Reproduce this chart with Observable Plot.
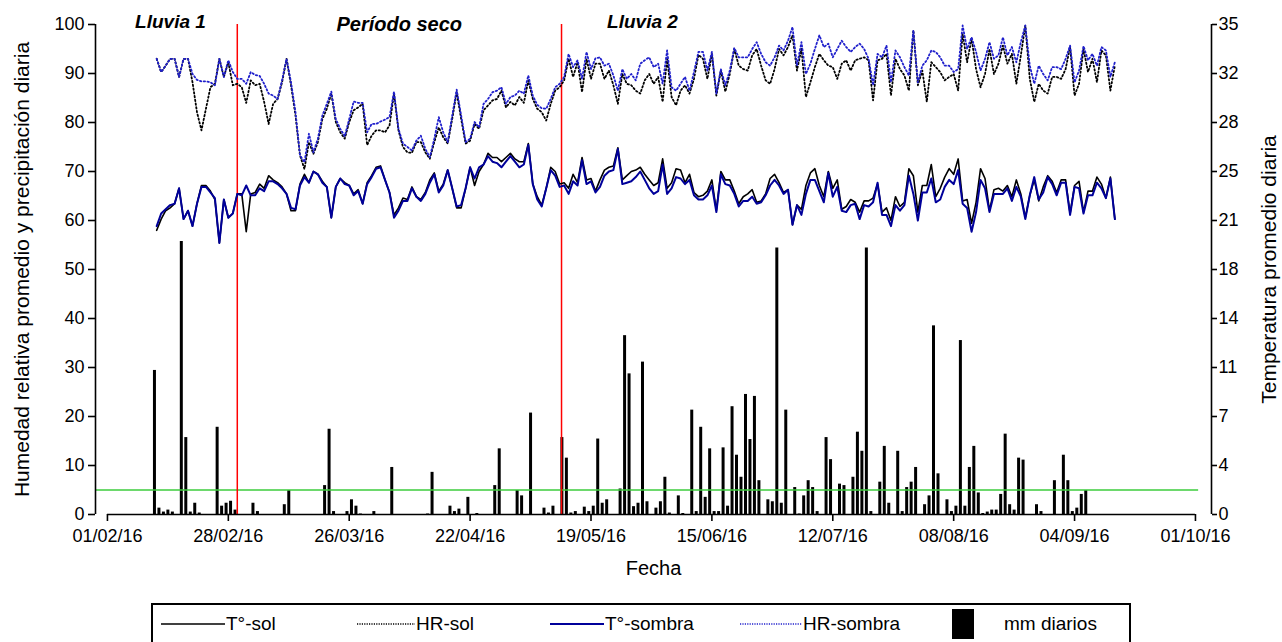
<!DOCTYPE html>
<html>
<head>
<meta charset="utf-8">
<script src="https://cdn.jsdelivr.net/npm/d3@7"></script>
<script src="https://cdn.jsdelivr.net/npm/@observablehq/plot@0.6"></script>
<style>
  body { margin: 0; background: #fff; font-family: "Liberation Sans", Arial, sans-serif; }
  #wrap { position: relative; width: 1282px; height: 642px; overflow: hidden; background: #fff; }
  #legend { position: absolute; left: 151px; top: 603px; width: 980px; height: 42px; border: 2px solid #000; box-sizing: border-box; }
  .item { position: absolute; top: 0; height: 100%; display: flex; align-items: center; font-size: 19px; color: #000; white-space: nowrap; }
  .item svg { display: block; }
</style>
</head>
<body>
<div id="wrap">
  <div id="chart"></div>
  <div id="legend"></div>
</div>
<script>
// ---- Data ----
const seriesStart = "2016-02-12"; // first daily value of the four line series

const tSol = [
  20.3,21.1,21.7,21.9,22.2,23.3,21.1,21.7,20.6,22.2,
  23.5,23.5,23.1,22.5,19.4,22.5,21.2,21.5,22.9,22.9,
  20.2,22.9,23.0,23.6,23.3,24.2,23.9,23.7,23.4,22.9,
  21.7,21.7,23.6,24.3,23.7,24.5,24.3,23.8,23.4,21.2,
  23.4,24.0,23.7,23.5,22.9,23.2,22.2,23.7,24.2,24.8,
  24.9,23.9,23.0,21.4,21.9,22.6,22.5,23.4,22.7,22.5,
  23.0,23.9,24.4,23.1,23.6,24.6,23.3,21.9,21.9,23.3,
  24.8,23.5,24.5,25.0,25.8,25.5,25.5,25.2,25.5,25.8,
  25.4,25.2,25.2,26.5,23.6,22.7,22.1,23.3,24.8,24.5,
  23.6,23.7,23.3,24.3,23.7,25.5,23.9,24.0,23.1,23.9,
  24.6,24.8,24.9,26.2,23.9,24.2,24.5,24.6,24.8,24.3,
  23.9,23.5,23.7,25.4,23.3,23.7,24.7,24.6,23.7,24.3,
  23.0,22.7,22.8,23.1,23.9,21.7,24.5,23.9,23.9,23.1,
  22.2,22.7,22.9,23.2,22.3,22.4,22.9,24.0,24.3,23.7,
  23.0,23.2,20.7,22.1,21.8,23.5,24.4,24.7,23.5,22.7,
  24.5,23.3,23.9,21.8,22.0,22.5,22.3,21.6,22.4,22.4,
  22.6,23.6,21.6,21.9,21.0,22.7,22.0,22.3,24.7,24.2,
  21.6,23.5,23.5,25.0,22.7,23.3,24.1,24.7,24.3,25.4,
  22.4,22.5,20.8,22.3,24.7,24.0,21.7,23.2,23.3,23.1,
  23.5,22.7,23.9,22.9,21.2,22.8,23.9,22.4,23.4,24.2,
  23.8,23.0,23.9,23.9,21.5,23.5,23.8,21.6,23.1,23.1,
  24.1,23.6,22.6,24.1,21.1
];

const tSombra = [
  20.6,21.5,21.8,22.1,22.2,23.3,21.1,21.7,20.6,22.2,
  23.4,23.4,23.0,22.6,19.4,22.5,21.2,21.5,22.9,22.8,
  23.5,22.8,22.8,23.3,23.1,23.8,23.8,23.6,23.3,22.9,
  21.9,21.8,23.5,24.1,23.7,24.5,24.3,23.7,23.4,21.2,
  23.4,24.0,23.6,23.5,22.8,23.1,22.2,23.6,24.1,24.7,
  24.8,23.9,23.0,21.2,21.7,22.4,22.4,23.3,22.7,22.4,
  22.9,23.7,24.3,23.0,23.5,24.6,23.3,22.0,22.1,23.3,
  24.8,24.0,24.8,25.0,25.6,25.2,25.1,24.8,25.2,25.6,
  25.2,24.8,25.0,26.4,23.6,22.5,22.0,23.3,24.6,24.2,
  23.4,23.5,22.9,23.8,23.5,25.3,23.6,23.8,23.0,23.4,
  24.2,24.5,24.6,26.1,23.6,23.7,23.8,24.1,24.5,23.9,
  23.3,22.9,23.1,25.0,22.9,23.3,24.1,24.0,23.6,23.9,
  22.8,22.5,22.5,22.8,23.5,21.6,24.3,23.6,23.5,22.9,
  22.0,22.4,22.4,22.7,22.2,22.3,22.8,23.5,23.9,23.5,
  22.9,23.2,20.7,22.1,21.4,22.9,23.9,23.9,23.1,22.3,
  24.4,22.7,23.4,21.7,21.6,22.1,22.2,21.1,22.1,22.0,
  22.3,23.7,21.4,21.4,20.6,22.1,21.7,22.1,24.2,22.9,
  21.0,23.0,23.0,24.0,22.3,22.5,23.4,23.9,23.6,24.6,
  22.2,21.9,20.2,21.6,23.9,23.3,21.6,22.9,22.9,22.9,
  23.3,22.4,23.4,22.7,21.1,22.8,24.1,22.5,23.0,24.1,
  23.6,22.8,23.7,23.7,21.4,23.4,23.3,21.5,22.8,22.8,
  23.7,23.3,22.6,24.0,21.1
];

const hrSol = [
  93.0,90.3,91.6,93.0,93.0,89.3,93.0,93.0,88.2,82.1,
  78.4,82.8,87.2,87.9,93.0,89.3,92.3,87.6,87.9,87.2,
  84.0,88.6,87.6,87.9,84.2,79.7,83.8,84.8,88.2,93.0,
  87.6,81.4,73.3,70.5,76.0,73.6,76.0,80.7,82.8,85.9,
  80.1,78.0,76.7,80.1,82.5,83.1,83.8,75.4,77.3,78.4,
  78.4,78.0,79.4,85.9,78.4,75.0,73.9,73.8,76.0,76.0,
  73.9,72.6,76.0,79.0,77.0,75.7,80.7,86.2,80.7,75.7,
  76.3,79.7,78.7,82.5,83.5,84.5,84.8,86.5,83.1,84.2,
  83.5,85.2,84.0,88.6,84.8,82.8,82.1,80.4,83.8,86.5,
  87.2,88.6,93.0,89.3,92.3,86.2,93.0,88.9,92.0,92.0,
  88.9,90.6,87.6,83.8,89.9,87.9,87.6,86.5,85.9,88.6,
  89.9,87.9,89.3,84.2,93.0,85.2,83.5,86.5,87.6,85.9,
  88.9,93.8,93.0,88.9,94.0,85.5,90.6,86.3,89.9,95.0,
  91.6,90.9,90.6,93.7,95.0,91.6,88.6,87.9,90.9,95.0,
  93.7,95.4,97.8,90.6,95.0,85.2,88.2,91.3,94.0,92.7,
  91.6,91.3,88.9,92.0,92.7,90.6,92.7,93.0,93.3,92.7,
  84.5,92.7,93.0,94.0,85.5,93.0,90.9,89.6,86.5,98.8,
  87.6,90.6,84.2,92.3,91.3,90.3,88.6,89.3,89.9,86.5,
  98.1,92.3,97.1,90.9,87.2,89.9,95.0,89.9,92.0,95.7,
  92.0,94.0,87.9,93.7,99.8,88.9,84.2,87.9,86.5,85.9,
  89.3,89.3,88.9,90.9,95.4,85.5,87.9,95.0,90.3,93.0,
  88.2,94.7,93.7,86.5,91.6
];

const hrSombra = [
  93.0,90.3,91.6,93.0,93.0,89.3,93.0,93.0,89.9,88.7,
  88.4,88.4,88.2,87.6,93.0,89.3,92.7,90.3,88.9,88.9,
  87.9,90.3,89.7,89.5,87.9,85.9,85.5,84.8,88.6,93.0,
  88.2,82.1,73.3,71.9,77.7,73.9,76.7,81.4,83.8,86.3,
  80.7,78.7,77.2,80.7,84.3,84.0,84.0,78.0,79.7,79.7,
  80.2,80.6,81.1,86.3,78.7,75.7,75.0,74.3,76.3,77.3,
  74.6,72.9,76.7,81.1,78.0,76.0,81.4,86.7,81.4,76.0,
  76.7,80.1,79.0,83.8,84.8,86.2,86.5,87.2,83.8,85.2,
  85.5,86.5,85.9,89.6,85.5,83.6,82.9,82.8,84.8,87.2,
  87.9,89.3,94.0,91.3,92.7,88.9,94.4,90.9,93.1,93.3,
  91.6,92.0,89.6,86.5,90.9,88.9,89.9,88.6,92.0,92.7,
  93.3,91.3,92.0,87.9,94.7,87.2,86.5,87.9,89.3,86.5,
  90.3,94.4,94.4,90.6,94.4,85.9,90.9,87.6,90.6,95.2,
  93.3,93.3,93.3,95.0,96.4,94.0,92.3,91.6,93.3,95.7,
  94.7,96.7,99.5,91.6,96.4,89.9,92.0,95.0,97.8,95.4,
  96.1,93.3,95.0,96.7,95.4,94.4,95.4,96.1,95.0,93.0,
  87.6,94.0,93.3,95.7,88.2,94.7,93.3,91.3,89.6,98.8,
  88.2,91.6,92.7,94.7,94.4,93.3,91.6,91.6,90.3,90.9,
  99.8,95.0,97.4,94.4,90.6,93.0,96.4,93.0,93.7,97.4,
  93.7,95.4,92.3,96.4,99.8,91.6,87.9,91.6,89.9,88.6,
  91.3,91.3,90.9,93.0,95.7,88.2,90.6,95.6,92.7,94.0,
  91.6,95.4,94.7,89.3,92.3
];

// daily precipitation (mm) on the days it rained
const precipDays = [
  "02-11","02-12","02-13","02-14","02-15","02-17","02-18","02-19","02-20","02-21",
  "02-25","02-26","02-27","02-28","02-29","03-04","03-05","03-11","03-12","03-20",
  "03-21","03-22","03-25","03-26","03-27","03-28","03-31","04-04","04-12","04-13",
  "04-17","04-18","04-19","04-21","04-23","04-27","04-28","05-02","05-03","05-05",
  "05-08","05-09","05-10","05-12","05-13","05-14","05-15","05-17","05-18","05-19",
  "05-20","05-21","05-22","05-25","05-26","05-27","05-28","05-29","05-30","05-31",
  "06-02","06-03","06-04","06-05","06-07","06-08","06-10","06-11","06-12","06-13",
  "06-14","06-15","06-16","06-17","06-18","06-19","06-20","06-21","06-22","06-23",
  "06-24","06-25","06-27","06-28","06-29","06-30","07-01","07-03","07-04","07-05",
  "07-06","07-07","07-08","07-10","07-11","07-13","07-14","07-16","07-17","07-18",
  "07-19","07-20","07-22","07-23","07-24","07-26","07-27","07-28","07-29","07-30",
  "08-01","08-02","08-03","08-04","08-06","08-07","08-08","08-09","08-10","08-11",
  "08-12","08-13","08-14","08-15","08-16","08-17","08-18","08-19","08-20","08-21",
  "08-22","08-23","08-26","08-27","08-30","09-01","09-02","09-03","09-04","09-05",
  "09-06"
];
const precipMm = [
  29.4,1.3,0.5,0.9,0.5,55.7,15.7,0.5,2.3,0.3,
  17.8,1.7,2.3,2.7,0.9,2.3,0.6,2.0,4.9,5.9,
  17.4,0.6,0.6,3.0,1.7,0.1,0.6,9.6,0.1,8.6,
  1.7,0.6,1.1,3.5,0.2,5.9,13.4,4.9,3.8,20.7,
  1.3,0.3,1.7,15.7,11.5,0.3,0.6,1.5,0.6,1.7,
  15.4,2.3,3.0,5.2,36.5,28.7,1.6,2.3,31.1,2.6,
  1.3,2.6,7.6,0.3,3.8,0.2,21.3,0.6,17.8,3.5,
  13.4,0.6,0.6,13.6,1.7,22.0,12.1,7.6,24.5,15.3,
  24.1,6.9,3.0,2.6,54.4,2.3,21.3,5.5,0.1,3.8,
  6.9,5.5,0.6,15.7,11.2,6.2,5.9,7.6,16.8,12.9,
  54.4,0.6,6.6,13.9,2.3,12.9,0.6,5.5,6.6,9.6,
  2.0,3.8,38.5,8.3,3.0,0.6,1.7,35.5,1.7,9.6,
  13.9,4.4,0.2,0.5,0.9,0.9,4.1,16.4,2.0,0.9,
  11.5,11.1,2.0,0.6,6.9,12.1,6.9,0.6,1.3,4.1,
  4.9
];

const xTickDates = ["2016-02-01","2016-02-28","2016-03-26","2016-04-22","2016-05-19",
                    "2016-06-15","2016-07-12","2016-08-08","2016-09-04","2016-10-01"];
const leftTicks = [0,10,20,30,40,50,60,70,80,90,100];
const rightTicks = [0,3.5,7,10.5,14,17.5,21,24.5,28,31.5,35]; // labelled rounded
const periodBreaks = ["2016-03-01T00:00Z","2016-05-12T10:00Z"];
const thresholdMm = 5;
const annotations = [
  {label: "Lluvia 1", date: "2016-02-15T02:00Z", y: 99.2, size: 19},
  {label: "Período seco", date: "2016-04-06T04:00Z", y: 98.6, size: 20},
  {label: "Lluvia 2", date: "2016-05-30T12:00Z", y: 99.2, size: 19}
];

// ---- Build ----
const T_MAX = 35, LEFT_MAX = 100;
const toLeft = t => t * LEFT_MAX / T_MAX;
const start = new Date(seriesStart + "T00:00Z");
const series = (vals, conv) => vals.map((v, i) => ({date: d3.utcDay.offset(start, i), v: conv ? conv(v) : v}));
const tSolData = series(tSol, toLeft);
const tSombraData = series(tSombra, toLeft);
const hrSolData = series(hrSol);
const hrSombraData = series(hrSombra);
const precip = precipDays.map((d, i) => ({date: new Date(`2016-${d}T12:00Z`), mm: precipMm[i]}));

const xTicks = xTickDates.map(s => new Date(s + "T00:00Z"));
const xStart = new Date("2016-01-29T08:00Z");
const xEnd = new Date("2016-10-04T14:00Z");
const greenEnd = new Date("2016-10-01T17:00Z");
const breaks = periodBreaks.map(s => new Date(s));
const fmt = d3.utcFormat("%d/%m/%y");
const DOT = "1.4,2.4";

const chart = Plot.plot({
  width: 1282,
  height: 598,
  marginLeft: 95,
  marginRight: 71,
  marginTop: 24,
  marginBottom: 84,
  x: {type: "utc", domain: [xStart, xEnd]},
  y: {domain: [0, 100]},
  style: {fontFamily: "'Liberation Sans', Arial, sans-serif", fontSize: "18px", background: "#fff", color: "#000", overflow: "visible"},
  marks: [
    Plot.ruleX(precip, {x: "date", y1: 0, y2: "mm", stroke: "#000", strokeWidth: 3}),
    Plot.ruleY([thresholdMm], {x1: () => xStart, x2: () => greenEnd, stroke: "#3ccc3c", strokeWidth: 1.5}),
    Plot.ruleX(breaks, {y1: 0, y2: 100, stroke: "#ff0000", strokeWidth: 1.5}),
    Plot.lineY(hrSolData, {x: "date", y: "v", stroke: "#000", strokeWidth: 1.8, strokeDasharray: DOT}),
    Plot.lineY(hrSombraData, {x: "date", y: "v", stroke: "#2020cc", strokeWidth: 1.8, strokeDasharray: DOT}),
    Plot.lineY(tSolData, {x: "date", y: "v", stroke: "#000", strokeWidth: 1.6}),
    Plot.lineY(tSombraData, {x: "date", y: "v", stroke: "#00009a", strokeWidth: 2}),
    // axis lines
    Plot.ruleY([0], {x1: () => xTicks[0], x2: () => xTicks[xTicks.length - 1], stroke: "#000", strokeWidth: 1.6}),
    Plot.ruleX([xStart], {y1: 0, y2: 100, stroke: "#000", strokeWidth: 1.6}),
    Plot.ruleX([xEnd], {y1: 0, y2: 100, stroke: "#000", strokeWidth: 1.6}),
    Plot.axisY({ticks: leftTicks, tickSize: 7, tickPadding: 4, fontSize: 18, label: null, strokeWidth: 1.6}),
    Plot.axisY({anchor: "right", ticks: rightTicks.map(toLeft), tickFormat: v => Math.round(v * T_MAX / LEFT_MAX), tickSize: 5, tickPadding: 2, fontSize: 18, label: null, strokeWidth: 1.6}),
    Plot.axisX({ticks: xTicks, tickFormat: fmt, tickSize: 7, tickPadding: 8, fontSize: 18, label: null, strokeWidth: 1.6}),
    // annotations
    Plot.text(annotations, {x: d => new Date(d.date), y: "y", text: "label", fontWeight: "bold", fontStyle: "italic", fontSize: d => d.size, lineAnchor: "bottom"}),
    // axis titles
    Plot.text(["Humedad relativa promedio y precipitación diaria"], {frameAnchor: "left", textAnchor: "middle", dx: -73, rotate: -90, fontSize: 21}),
    Plot.text(["Temperatura promedio diaria"], {frameAnchor: "right", textAnchor: "middle", dx: 58, rotate: -90, fontSize: 21}),
    Plot.text(["Fecha"], {frameAnchor: "bottom", dy: 60, fontSize: 20})
  ]
});
document.getElementById("chart").appendChild(chart);

// ---- Legend ----
const legendItems = [
  {label: "T°-sol", kind: "line", color: "#000", dash: null, width: 1.6, left: 8, sw: 64},
  {label: "HR-sol", kind: "line", color: "#000", dash: "1.2,1.2", width: 1.4, left: 204, sw: 58},
  {label: "T°-sombra", kind: "line", color: "#00009a", dash: null, width: 2, left: 397, sw: 54},
  {label: "HR-sombra", kind: "line", color: "#2020cc", dash: "1.2,1.2", width: 1.4, left: 587, sw: 62},
  {label: "mm diarios", kind: "box", color: "#000", left: 799, sw: 22}
];
const legend = document.getElementById("legend");
legendItems.forEach(it => {
  const div = document.createElement("div");
  div.className = "item";
  div.style.left = it.left + "px";
  let svg;
  if (it.kind === "line") {
    svg = `<svg width="${it.sw}" height="10"><line x1="0" x2="${it.sw}" y1="5" y2="5" stroke="${it.color}" stroke-width="${it.width}" ${it.dash ? `stroke-dasharray="${it.dash}"` : ""}/></svg>`;
    div.innerHTML = svg + `<span style="margin-left:1px">${it.label}</span>`;
  } else {
    svg = `<svg width="${it.sw}" height="30"><rect x="0" y="0" width="${it.sw}" height="30" fill="${it.color}"/></svg>`;
    div.innerHTML = svg + `<span style="margin-left:30px">${it.label}</span>`;
  }
  legend.appendChild(div);
});
</script>
</body>
</html>
